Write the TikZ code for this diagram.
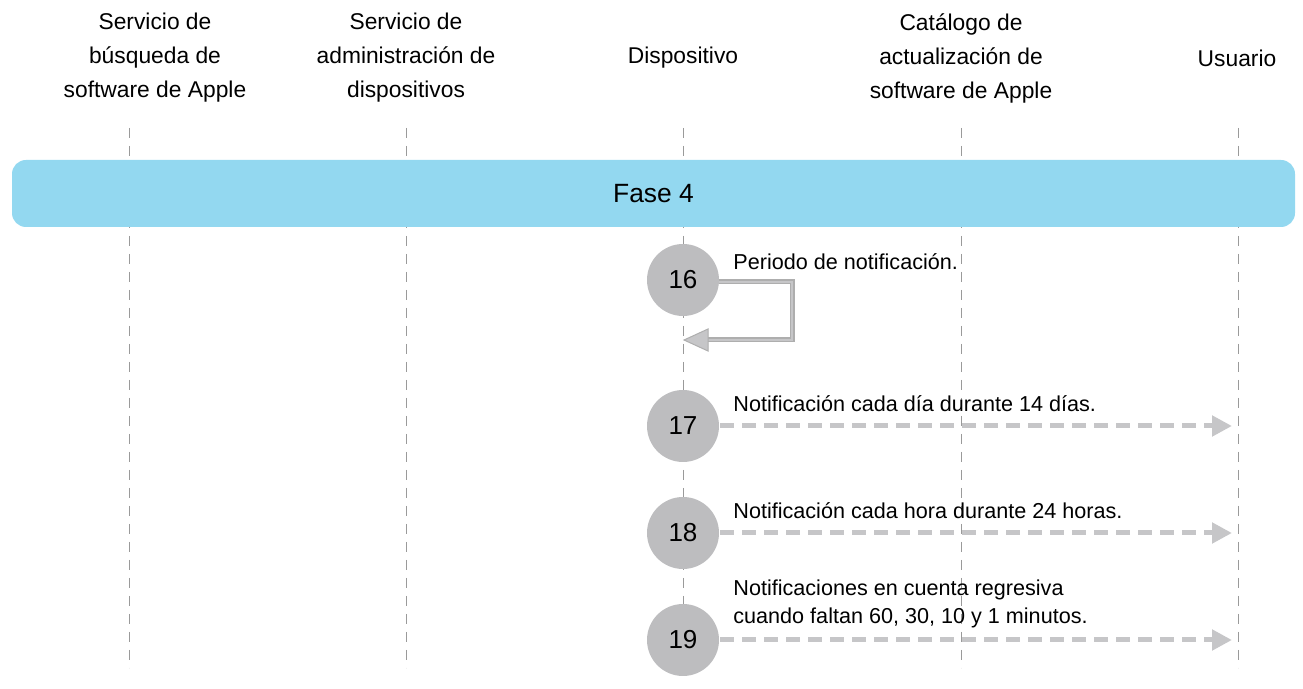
\documentclass[tikz,border=0pt]{standalone}
\usepackage{fontspec}
\setmainfont{Liberation Sans}
\usetikzlibrary{arrows.meta}
\definecolor{banner}{HTML}{93D8F0}
\definecolor{circ}{HTML}{BDBDBF}
\definecolor{arr}{HTML}{C6C6C8}
\definecolor{lane}{HTML}{9A9A9A}
\begin{document}
\begin{tikzpicture}[x=0.5pt,y=-0.5pt,
  head/.style={align=center,font=\fontsize{11.4}{17}\selectfont,inner sep=0pt},
  lanel/.style={draw=lane,dashed,line width=0.5pt,dash pattern=on 5pt off 4pt},
  num/.style={circle,fill=circ,minimum size=36pt,inner sep=0pt,font=\fontsize{13}{14}\selectfont},
  lbl/.style={anchor=west,align=left,inner sep=0pt,font=\fontsize{10.8}{14}\selectfont},
  msg/.style={draw=arr,line width=2.5pt,dash pattern=on 7pt off 4pt,-{Triangle[length=10pt,width=10pt]}}]
\useasboundingbox (0,0) rectangle (1303,689);
\foreach \n/\x in {a/129,b/406,c/683,d/961,e/1238}{
  \coordinate (t\n) at (\x,128); \coordinate (b\n) at (\x,668);
  \draw[lanel] (t\n) -- (b\n);}
\node[head] (ha) at (155,58) {Servicio de\\búsqueda de\\software de Apple};
\node[head] (hb) at (406,58) {Servicio de\\administración de\\dispositivos};
\node[head] (hc) at (683,58) {Dispositivo};
\node[head] (hd) at (961,58) {Catálogo de\\actualización de\\software de Apple};
\node[head] (he) at (1237,58) {Usuario};
\node[fill=banner,rounded corners=7pt,minimum width=641.5pt,minimum height=33.5pt,inner sep=0pt,font=\fontsize{13.2}{14}\selectfont] (fase) at (653.5,193.5) {Fase 4};
\node[num] (n16) at (683,280) {16};
\node[num] (n17) at (683,426) {17};
\node[num] (n18) at (683,533) {18};
\node[num] (n19) at (683,640) {19};
\coordinate (l1) at (792,282); \coordinate (l2) at (792,340); \coordinate (l3) at (684,340);
\draw[draw=lane!80,line width=2.5pt] (n16.east |- l1) -- (l1) -- (l2) -- ([xshift=10pt]l3);
\draw[draw=arr,line width=1.3pt] (n16.east |- l1) -- (l1) -- (l2) -- ([xshift=10pt]l3);
\fill[arr,draw=lane!80,line width=0.5pt] (l3) -- ++(12pt,-5.5pt) -- ++(0,11pt) -- cycle;
\coordinate (e17) at (1232,426); \coordinate (e18) at (1232,533); \coordinate (e19) at (1232,640);
\draw[msg] (n17) ++(37,0) -- (e17);
\draw[msg] (n18) ++(37,0) -- (e18);
\draw[msg] (n19) ++(37,0) -- (e19);
\node[lbl] (t16) at (733,262) {Periodo de notificación.};
\node[lbl] (t17) at (733,404) {Notificación cada día durante 14 días.};
\node[lbl] (t18) at (733,511) {Notificación cada hora durante 24 horas.};
\node[lbl] (t19) at (733,604) {Notificaciones en cuenta regresiva\\cuando faltan 60, 30, 10 y 1 minutos.};
\end{tikzpicture}
\end{document}
